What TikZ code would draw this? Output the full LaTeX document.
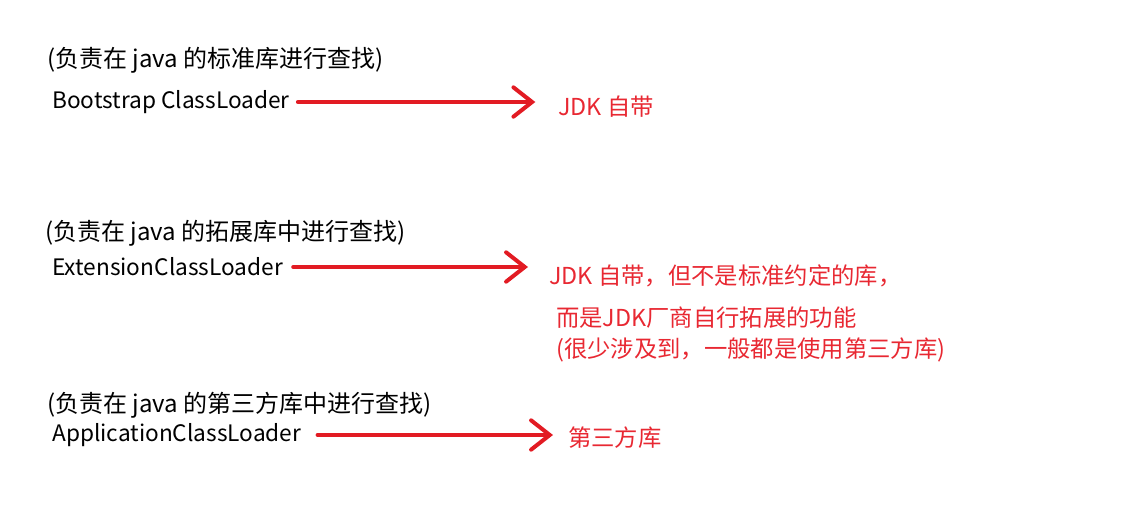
\documentclass[tikz,border=0pt]{standalone}
\usepackage{fontspec}
\setmainfont{Noto Sans CJK SC}
\definecolor{linered}{RGB}{226,27,35}
\definecolor{textred}{RGB}{232,40,50}
\usetikzlibrary{arrows.meta}
\tikzset{
  notetext/.style={anchor=west,inner sep=0pt,font=\fontsize{18pt}{21pt}\selectfont},
  blacktext/.style={anchor=west,inner sep=0pt,font=\fontsize{17pt}{20pt}\selectfont},
  redtext/.style={anchor=west,inner sep=0pt,color=textred,font=\fontsize{17.5pt}{20pt}\selectfont},
  redarrow/.style={draw=linered,line width=3pt,line cap=round,
    -{Straight Barb[length=14pt,width=22pt,line width=3pt,line cap=round]}}
}
\begin{document}
\begin{tikzpicture}[x=0.75pt,y=0.75pt,yscale=-1,xscale=1]
\useasboundingbox (0,0) rectangle (1142,507);

% Text Node
\node [notetext] (note1) at (47,60) {(负责在 java 的标准库进行查找)};
% Text Node
\node [blacktext] (boot) at (52,102) {Bootstrap ClassLoader};
% Text Node
\node [redtext] (jdk) at (558,107) {JDK 自带};

% Text Node
\node [notetext] (note2) at (45,233) {(负责在 java 的拓展库中进行查找)};
% Text Node
\node [blacktext] (ext) at (52,267) {ExtensionClassLoader};
% Text Node
\node [redtext] (extA) at (549,276) {JDK 自带，但不是标准约定的库，};
\node [redtext] (extB) at (556,318) {而是JDK厂商自行拓展的功能};
\node [redtext] (extC) at (556,350) {(很少涉及到，一般都是使用第三方库)};

% Text Node
\node [notetext] (note3) at (47,405) {(负责在 java 的第三方库中进行查找)};
% Text Node
\node [blacktext] (app) at (52,435) {ApplicationClassLoader};
% Text Node
\node [redtext] (third) at (568,438) {第三方库};

% Arrows
\draw [redarrow,shorten <=6pt,shorten >=17pt] (boot.east) -- (boot.east -| jdk.west);
\draw [redarrow,shorten <=7.5pt,shorten >=15.75pt] (ext.east) -- (ext.east -| extA.west);
\draw [redarrow,shorten <=12pt,shorten >=11.25pt] (app.east) -- (app.east -| third.west);

\end{tikzpicture}
\end{document}
